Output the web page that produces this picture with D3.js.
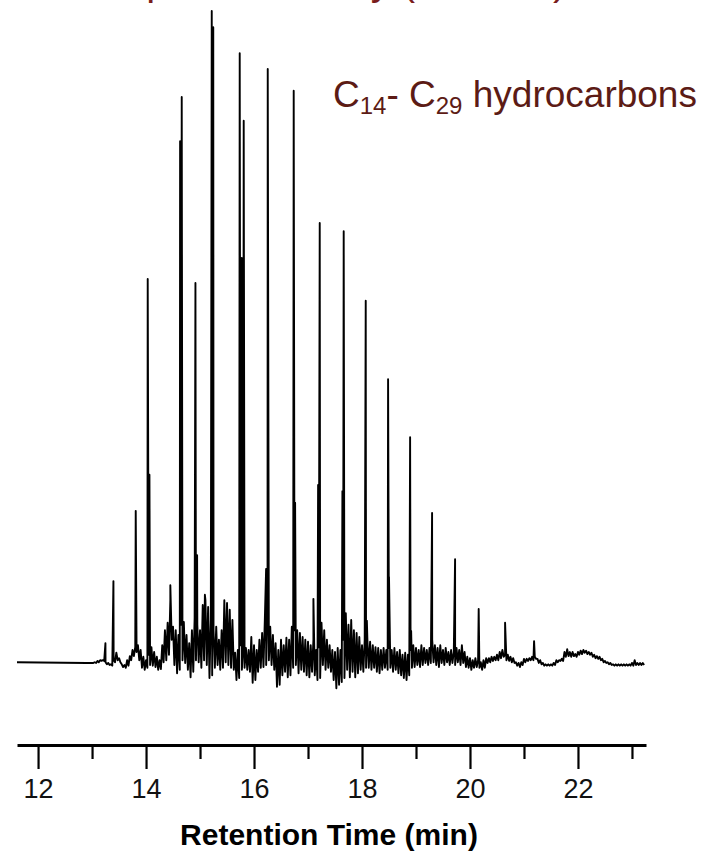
<!DOCTYPE html>
<html>
<head>
<meta charset="utf-8">
<script src="https://cdn.jsdelivr.net/npm/d3@7/dist/d3.min.js"></script>
<style>
  body { margin: 0; background: #fff; }
  svg { display: block; font-family: Arial, "Liberation Sans", sans-serif; }
</style>
</head>
<body>
<svg id="chart" width="704" height="851"></svg>
<script>
// retention time (min) and relative abundance of the resolved peaks
var peakTimes = [13.248, 13.396, 13.809, 14.031, 14.063, 14.45, 14.631, 14.661, 14.915, 14.946,
  15.09, 15.217, 15.245, 15.735, 15.772, 15.809, 16.224, 16.254, 16.735, 16.761,
  17.10, 17.187, 17.217, 17.637, 17.661, 18.069, 18.09, 18.483, 18.50, 18.891,
  18.91, 19.298, 19.724, 20.161, 20.650, 21.187]
var peakHeights = [7.6, 16.7, 27.0, 61.0, 32.3, 16.1, 81.2, 87.7, 60.4, 20.5,
  14.7, 100.3, 97.9, 94.1, 64.1, 84.2, 18.5, 91.8, 88.6, 28.2,
  14.1, 30.8, 69.2, 29.9, 68.0, 57.8, 10.9, 46.3, 17.3, 37.8,
  9.4, 26.7, 19.9, 12.6, 10.6, 7.9]

// baseline before the first eluting compound
var leadTimes = [11.61, 12.9]
var leadValues = [4.8, 4.7]

// detector signal, upper and lower swing every 0.05 min from 13.00 min
var noiseStart = 13.0
var noiseStep = 0.05
var noiseHi = [
  4.7, 4.8, 5.0, 5.1, 5.1, 4.8, 4.7, 4.5, 5.1, 6.2,
  5.4, 4.5, 4.4, 5.1, 5.7, 6.6, 7.0, 7.3, 6.6, 5.6,
  5.1, 5.9, 7.0, 6.3, 5.6, 5.1, 7.3, 9.5, 10.6, 13.9,
  10.0, 9.5, 8.8, 10.3, 10.7, 8.8, 7.6, 9.5, 11.3, 10.3,
  9.5, 13.2, 13.9, 12.9, 11.0, 9.5, 10.0, 8.1, 9.5, 13.9,
  13.5, 12.5, 11.0, 6.2, 6.6, 7.3, 6.9, 6.9, 6.6, 8.5,
  7.3, 6.6, 8.1, 9.1, 11.0, 12.5, 10.0, 8.8, 7.6, 6.6,
  8.1, 7.3, 8.4, 8.1, 10.0, 9.5, 9.5, 9.1, 8.5, 8.1,
  7.8, 7.3, 8.1, 6.6, 7.0, 10.6, 9.5, 8.1, 7.3, 6.6,
  6.3, 6.9, 6.6, 8.1, 12.0, 10.3, 11.0, 9.5, 9.1, 8.5,
  7.3, 8.1, 8.1, 7.8, 7.3, 7.0, 6.9, 6.6, 6.9, 6.6,
  6.9, 6.6, 6.9, 6.3, 6.6, 5.9, 6.2, 5.9, 6.6, 7.3,
  6.9, 6.6, 7.3, 6.9, 6.6, 6.9, 8.1, 7.3, 6.9, 7.3,
  6.6, 6.9, 6.3, 6.6, 6.3, 6.9, 6.6, 7.3, 6.3, 5.6,
  5.4, 5.1, 5.4, 5.1, 4.8, 5.1, 5.4, 5.4, 5.6, 5.6,
  5.9, 6.3, 6.6, 5.9, 5.9, 5.6, 5.4, 4.8, 4.7, 4.8,
  5.3, 5.3, 5.4, 5.6, 5.6, 5.3, 5.1, 4.7, 4.5, 4.5,
  4.5, 4.7, 5.1, 5.1, 5.3, 6.3, 6.7, 6.3, 6.3, 6.0,
  6.3, 6.5, 6.6, 6.5, 6.3, 6.2, 5.9, 5.7, 5.6, 5.3,
  5.0, 4.8, 4.7, 4.5, 4.5, 4.5, 4.5, 4.5, 4.5, 4.5,
  4.7, 5.1, 4.7, 4.7, 4.7]
var noiseLo = [
  4.7, 4.7, 4.8, 5.0, 5.0, 4.5, 4.4, 4.3, 4.8, 5.1,
  4.8, 4.1, 4.0, 4.3, 5.1, 5.7, 6.3, 5.1, 4.0, 3.7,
  4.0, 4.4, 4.3, 4.1, 3.7, 3.8, 4.8, 5.1, 5.9, 8.1,
  4.4, 3.2, 3.7, 5.1, 4.7, 3.7, 2.6, 3.4, 5.1, 4.8,
  4.0, 5.1, 4.4, 2.5, 2.9, 4.0, 4.4, 3.7, 4.0, 4.8,
  4.4, 4.0, 3.7, 2.2, 2.5, 3.7, 4.0, 3.7, 3.4, 1.8,
  2.2, 3.4, 4.0, 4.1, 4.4, 5.1, 4.4, 3.7, 1.2, 1.5,
  2.9, 3.4, 2.6, 2.9, 4.0, 4.4, 3.2, 3.7, 3.4, 2.9,
  2.6, 3.4, 2.9, 2.2, 2.5, 4.4, 3.7, 4.0, 3.4, 2.2,
  1.0, 1.5, 1.9, 2.5, 3.7, 2.6, 3.4, 2.6, 3.2, 3.7,
  3.4, 4.0, 4.0, 3.7, 4.0, 3.4, 3.2, 3.7, 4.0, 3.7,
  4.0, 3.4, 3.7, 3.2, 2.9, 2.5, 2.2, 2.9, 4.0, 4.1,
  4.4, 4.1, 4.4, 4.7, 4.4, 4.7, 4.8, 4.4, 4.1, 4.7,
  4.4, 4.8, 4.4, 4.7, 4.4, 4.8, 4.4, 4.7, 4.1, 4.0,
  3.7, 4.0, 4.1, 4.0, 3.7, 4.0, 4.7, 4.8, 5.0, 5.1,
  5.1, 5.4, 5.6, 5.1, 5.0, 4.8, 4.7, 4.3, 4.1, 4.4,
  4.8, 5.0, 5.1, 5.1, 5.3, 4.7, 4.5, 4.3, 4.3, 4.3,
  4.3, 4.4, 4.8, 5.0, 5.0, 5.6, 5.7, 5.6, 5.7, 5.6,
  5.9, 6.0, 6.2, 6.0, 5.9, 5.6, 5.4, 5.3, 5.1, 4.8,
  4.7, 4.5, 4.4, 4.3, 4.3, 4.3, 4.3, 4.3, 4.3, 4.3,
  4.3, 4.4, 4.4, 4.4, 4.4]

var tickMinutes = [12, 13, 14, 15, 16, 17, 18, 19, 20, 21, 22, 23]

var svg = d3.select('#chart')
const axisY = 745
const darkRed = '#5c1b15'

var x = d3.scaleLinear().domain([11.61, 23.26]).range([17, 646])
var y = d3.scaleLinear().domain([0, 100]).range([695, 13])

svg.append('rect').attr('width', 704).attr('height', 851).attr('fill', '#fff')

// title, cut off by the top edge of the slide
svg.append('text')
  .attr('x', 64)
  .attr('y', -5.5)
  .attr('font-size', 40)
  .attr('fill', '#7a1c1c')
  .text('Sample Chemistry (GC-FID)')

var trace = []
leadTimes.forEach(function(t, i) {
  trace.push([t, leadValues[i]])
})
noiseHi.forEach(function(h, i) {
  var t = noiseStart + i * noiseStep
  trace.push([t, h])
  trace.push([t + noiseStep / 2, noiseLo[i]])
})
peakTimes.forEach(function(t, i) {
  trace.push([t, peakHeights[i]])
})
trace.sort(function(a, b) { return a[0] - b[0] })

var line = d3.line()
  .x(function(d) { return x(d[0]) })
  .y(function(d) { return y(d[1]) })

svg.append('path')
  .datum(trace)
  .attr('d', line)
  .attr('fill', 'none')
  .attr('stroke', '#000')
  .attr('stroke-width', 1.9)
  .attr('stroke-linejoin', 'round')

// x axis
var axis = d3.axisBottom(x)
  .tickValues(tickMinutes)
  .tickSize(24)
  .tickSizeOuter(0)
  .tickPadding(10)
  .tickFormat(function(d) { return d % 2 === 0 ? d : '' })

var gx = svg.append('g')
  .attr('transform', 'translate(0,' + axisY + ')')
  .call(axis)
gx.select('.domain').attr('stroke', '#000').attr('stroke-width', 3)
gx.selectAll('.tick line')
  .attr('stroke', '#000')
  .attr('stroke-width', 2.2)
  .attr('y2', function(d) { return d % 2 === 0 ? 24 : 14 })
gx.selectAll('.tick text')
  .attr('font-size', 27)
  .attr('font-family', 'Arial, "Liberation Sans", sans-serif')
  .attr('fill', '#111')

svg.append('text')
  .attr('x', 329)
  .attr('y', 845)
  .attr('text-anchor', 'middle')
  .attr('font-size', 30)
  .attr('font-weight', 'bold')
  .attr('fill', '#000')
  .text('Retention Time (min)')

// annotation
var note = svg.append('text')
  .attr('x', 333)
  .attr('y', 107)
  .attr('font-size', 37)
  .attr('fill', darkRed)
note.append('tspan').text('C')
note.append('tspan').attr('font-size', 24).attr('dy', 7).text('14')
note.append('tspan').attr('dy', -7).text('- C')
note.append('tspan').attr('font-size', 24).attr('dy', 7).text('29')
note.append('tspan').attr('dy', -7).text(' hydrocarbons')
</script>
</body>
</html>
